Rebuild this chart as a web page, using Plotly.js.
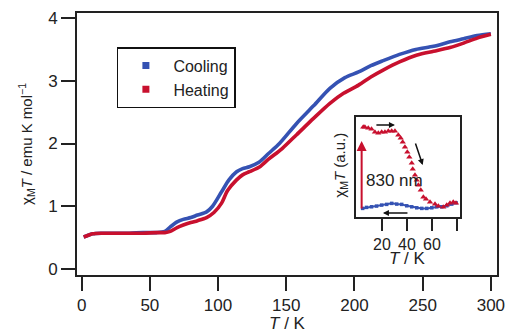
<!DOCTYPE html>
<html><head><meta charset="utf-8">
<script src="https://cdn.plot.ly/plotly-3.0.1.min.js"></script>
<style>html,body{margin:0;padding:0;background:#fff}#chart{width:507px;height:333px}</style>
</head><body><div id="chart"></div>
<script>
// Main chart: chi_M T vs T
const coolT = [1.5, 4, 8, 15, 25, 35, 45, 55, 61, 65, 70, 74.5, 80, 85, 91.6, 96, 102.6, 108, 113.6, 118, 123, 130, 137, 145, 157.6, 170, 182, 193, 203, 212, 221, 233, 245, 258, 270, 280, 290, 300];
const coolV = [0.51, 0.53, 0.56, 0.57, 0.57, 0.57, 0.58, 0.58, 0.60, 0.67, 0.75, 0.79, 0.82, 0.86, 0.91, 1.0, 1.23, 1.42, 1.55, 1.60, 1.63, 1.70, 1.84, 2.0, 2.32, 2.6, 2.88, 3.05, 3.14, 3.24, 3.32, 3.42, 3.50, 3.55, 3.62, 3.67, 3.72, 3.75];
const heatT = [1.5, 4, 8, 15, 25, 35, 45, 55, 61, 65, 70, 74.5, 80, 85, 91.6, 97, 102.6, 107, 113.6, 118, 123, 130, 137, 147, 157.6, 170, 182, 192, 203, 212, 221, 233, 246, 258, 270, 280, 290, 300];
const heatV = [0.51, 0.53, 0.56, 0.57, 0.57, 0.57, 0.57, 0.58, 0.58, 0.60, 0.66, 0.70, 0.74, 0.77, 0.82, 0.90, 1.05, 1.25, 1.42, 1.50, 1.55, 1.62, 1.75, 1.92, 2.14, 2.40, 2.64, 2.80, 2.93, 3.06, 3.17, 3.30, 3.41, 3.47, 3.53, 3.60, 3.68, 3.74];
const mainXTicks = [0, 50, 100, 150, 200, 250, 300];
const mainYTicks = [0, 1, 2, 3, 4];
const seriesNames = ["Cooling", "Heating"];

// Inset: light-induced (830 nm) measurement
const insetRedT = [5.1, 6.4, 9.1, 11.7, 14.4, 17.1, 19.8, 22.4, 25.1, 27.8, 30.4, 33.1, 35.0, 36.6, 38.4, 40.3, 41.9, 43.8, 44.6, 46.4, 47.8, 49.1, 51.0, 53.1, 55.2, 58.4, 62.4, 65.1, 69.0, 71.8, 74.4, 77.0, 79.2];
const insetRedV = [0.90, 0.90, 0.89, 0.88, 0.85, 0.84, 0.85, 0.85, 0.86, 0.86, 0.86, 0.82, 0.79, 0.75, 0.70, 0.65, 0.60, 0.54, 0.48, 0.42, 0.37, 0.32, 0.27, 0.20, 0.18, 0.15, 0.13, 0.11, 0.10, 0.12, 0.14, 0.15, 0.14];
const insetBlueT = [4.6, 7.7, 11.7, 15.7, 19.8, 23.8, 27.8, 31.8, 35.8, 39.8, 43.8, 47.8, 51.8, 55.8, 59.8, 63.8, 67.8, 71.8, 75.8, 79.2];
const insetBlueV = [0.087, 0.097, 0.103, 0.11, 0.12, 0.127, 0.137, 0.13, 0.127, 0.113, 0.103, 0.093, 0.087, 0.087, 0.093, 0.103, 0.103, 0.113, 0.13, 0.143];
const insetXTicks = [20, 40, 60, 80];
const insetXTickText = ["20", "40", "60", ""];

const BLUE = "#3552b3";
const RED = "#c8102e";
const FONT = "Liberation Sans, Arial, sans-serif";

const traces = [
  {x: coolT, y: coolV, type: "scatter", mode: "lines", line: {color: BLUE, width: 3.6, shape: "spline", smoothing: 0.8}, showlegend: false, hoverinfo: "skip"},
  {x: heatT, y: heatV, type: "scatter", mode: "lines", line: {color: RED, width: 3.6, shape: "spline", smoothing: 0.8}, showlegend: false, hoverinfo: "skip"},
  {x: [null], y: [null], type: "scatter", mode: "markers", name: seriesNames[0], marker: {symbol: "square", size: 7, color: BLUE}},
  {x: [null], y: [null], type: "scatter", mode: "markers", name: seriesNames[1], marker: {symbol: "square", size: 7, color: RED}},
  {x: insetBlueT, y: insetBlueV, xaxis: "x2", yaxis: "y2", type: "scatter", mode: "lines+markers", line: {color: BLUE, width: 2}, marker: {symbol: "square", size: 3.5, color: BLUE}, showlegend: false},
  {x: insetRedT, y: insetRedV, xaxis: "x2", yaxis: "y2", type: "scatter", mode: "markers", marker: {symbol: "triangle-up", size: 5.5, color: RED}, showlegend: false}
];

const layout = {
  width: 507, height: 333,
  margin: {l: 77, r: 10, t: 13, b: 58},
  paper_bgcolor: "#fff", plot_bgcolor: "#fff",
  font: {family: FONT, size: 17, color: "#222"},
  xaxis: {
    range: [-3.4, 304.5], tickvals: mainXTicks, ticks: "outside", ticklen: 14, tickwidth: 2, tickcolor: "#222",
    showline: true, mirror: true, linecolor: "#222", linewidth: 1.8, showgrid: false, zeroline: false,
    tickfont: {size: 17}, title: {text: "<i>T</i> / K", font: {size: 17}, standoff: 4}
  },
  yaxis: {
    range: [-0.096, 4.08], tickvals: mainYTicks, ticks: "outside", ticklen: 14, tickwidth: 2, tickcolor: "#222",
    showline: true, mirror: true, linecolor: "#222", linewidth: 1.8, showgrid: false, zeroline: false,
    tickfont: {size: 17}, title: {text: "χ<sub>M</sub><i>T</i> / emu K mol<sup>−1</sup>", font: {size: 15}, standoff: 12}
  },
  xaxis2: {
    domain: [0.664, 0.912], anchor: "y2", range: [-0.8, 82.4], tickvals: insetXTicks, ticktext: insetXTickText,
    ticks: "outside", ticklen: 12, tickwidth: 2, tickcolor: "#222", showline: true, mirror: true,
    linecolor: "#222", linewidth: 1.8, showgrid: false, zeroline: false, tickfont: {size: 16}
  },
  yaxis2: {
    domain: [0.221, 0.603], anchor: "x2", range: [0, 1], showticklabels: false, ticks: "",
    showline: true, mirror: true, linecolor: "#222", linewidth: 1.8, showgrid: false, zeroline: false
  },
  legend: {
    x: 0.095, y: 0.87, xanchor: "left", yanchor: "top", bgcolor: "#fff",
    bordercolor: "#111", borderwidth: 1.5, font: {size: 16}, itemwidth: 45, tracegroupgap: 0
  },
  annotations: [
    {xref: "paper", yref: "paper", x: 0.788, y: 0.062, text: "<i>T</i> / K", showarrow: false, font: {size: 17}, xanchor: "center", yanchor: "middle"},
    {xref: "paper", yref: "paper", x: 0.628, y: 0.42, text: "χ<sub>M</sub><i>T</i> (a.u.)", showarrow: false, textangle: -90, font: {size: 15}, xanchor: "center", yanchor: "middle"},
    {xref: "x2", yref: "y2", x: 30.4, y: 0.37, text: "830 nm", showarrow: false, font: {size: 17}, xanchor: "center", yanchor: "middle"},
    {xref: "x2", yref: "y2", axref: "x2", ayref: "y2", x: 3.8, y: 0.76, ax: 3.8, ay: 0.07, text: "", showarrow: true, arrowhead: 2, arrowsize: 1, arrowwidth: 2, arrowcolor: RED},
    {xref: "x2", yref: "y2", axref: "x2", ayref: "y2", x: 30.4, y: 0.92, ax: 14.4, ay: 0.92, text: "", showarrow: true, arrowhead: 2, arrowsize: 0.8, arrowwidth: 1.5, arrowcolor: "#111"},
    {xref: "x2", yref: "y2", axref: "x2", ayref: "y2", x: 52.6, y: 0.52, ax: 46.4, ay: 0.75, text: "", showarrow: true, arrowhead: 2, arrowsize: 0.8, arrowwidth: 1.5, arrowcolor: "#111"},
    {xref: "x2", yref: "y2", axref: "x2", ayref: "y2", x: 20.8, y: 0.04, ax: 41.6, ay: 0.04, text: "", showarrow: true, arrowhead: 2, arrowsize: 0.8, arrowwidth: 1.5, arrowcolor: "#111"}
  ]
};

Plotly.newPlot("chart", traces, layout, {displayModeBar: false, staticPlot: true});
</script></body></html>
